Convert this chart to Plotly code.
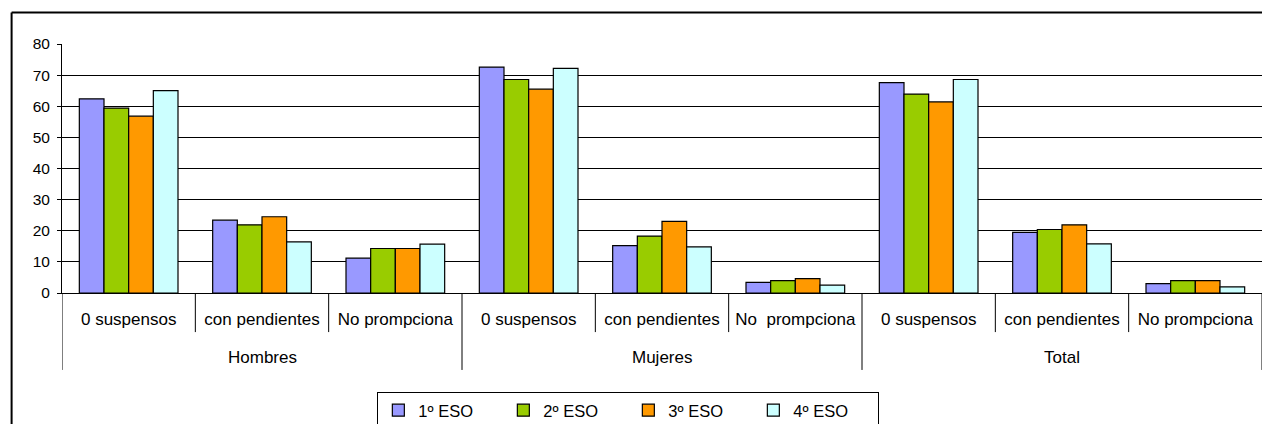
import plotly.graph_objects as go

groups = ["Hombres", "Mujeres", "Total"]
subcat_labels = ["0 suspensos", "con pendientes", "No prompciona",
                 "0 suspensos", "con pendientes", "No  prompciona",
                 "0 suspensos", "con pendientes", "No prompciona"]

series_names = ["1º ESO", "2º ESO", "3º ESO", "4º ESO"]
# values ordered: Hombres(0 susp, con pend, no prom), Mujeres(...), Total(...)
v_1eso = [62.4, 23.4, 11.2, 72.6, 15.2, 3.4, 67.6, 19.5, 3.0]
v_2eso = [59.4, 21.9, 14.3, 68.6, 18.3, 4.0, 63.9, 20.4, 4.0]
v_3eso = [56.8, 24.5, 14.3, 65.5, 23.0, 4.6, 61.4, 21.9, 4.0]
v_4eso = [65.0, 16.4, 15.7, 72.2, 14.8, 2.5, 68.6, 15.8, 2.0]
colors = ["#9999FF", "#99CC00", "#FF9900", "#CCFFFF"]

n_sub = 3
xpos = list(range(len(subcat_labels)))

fig = go.Figure()
for name, vals, col in zip(series_names, [v_1eso, v_2eso, v_3eso, v_4eso], colors):
    fig.add_trace(go.Bar(
        x=xpos, y=vals, name=name,
        marker=dict(color=col, line=dict(color="#000000", width=1.2)),
    ))

FONT = "Liberation Sans, Arial, sans-serif"
fig.update_layout(
    width=1263, height=424,
    margin=dict(l=62, r=1, t=44, b=131, autoexpand=False),
    paper_bgcolor="white", plot_bgcolor="white",
    font=dict(family=FONT, size=15, color="#000000"),
    barmode="group", bargap=0.26, bargroupgap=0,
    showlegend=True,
    legend=dict(
        orientation="h", xref="container", yref="container",
        x=0.4975, xanchor="center", y=0.0755, yanchor="top",
        bordercolor="#000000", borderwidth=1, bgcolor="white",
        font=dict(family=FONT, size=16.5), entrywidth=80, traceorder="normal",
    ),
)
fig.update_yaxes(
    range=[0, 80], dtick=10, showgrid=True, gridcolor="#000000", gridwidth=1,
    showline=True, linecolor="#000000", linewidth=1,
    ticks="outside", ticklen=4, tickcolor="#000000",
    tickfont=dict(family=FONT, size=15.5), zeroline=False,
    ticklabelstandoff=4, automargin=False,
)
fig.update_xaxes(
    range=[-0.5, len(subcat_labels) - 0.5],
    tickmode="array", tickvals=xpos, ticktext=subcat_labels,
    showline=True, linecolor="#000000", linewidth=1,
    ticks="", showgrid=False, zeroline=False,
    tickfont=dict(family=FONT, size=17), ticklabelstandoff=11,
    automargin=False,
)

# separators below the category axis
for i in range(len(subcat_labels) + 1):
    b = i - 0.5
    is_outer = (i % n_sub == 0)
    fig.add_shape(type="line", xref="x", yref="paper",
                  x0=b, x1=b, y0=0, y1=(-0.309 if is_outer else -0.157),
                  line=dict(color="#000000", width=1))

# outer group labels
for gi, g in enumerate(groups):
    fig.add_annotation(x=gi * n_sub + (n_sub - 1) / 2, xref="x", y=-0.26, yref="paper",
                       text=g, showarrow=False, yanchor="middle",
                       font=dict(family=FONT, size=17))

# outer chart-area border (only its top and left edges are visible)
fig.add_shape(type="line", xref="paper", yref="paper",
              x0=-0.042, x1=1.0, y0=1.1265, y1=1.1265,
              line=dict(color="#000000", width=2), layer="below")
fig.add_shape(type="line", xref="paper", yref="paper",
              x0=-0.042, x1=-0.042, y0=-0.8, y1=1.1265,
              line=dict(color="#000000", width=2), layer="below")

fig.write_html(
    "out.html",
    config={"displayModeBar": False},
    post_script="document.body.style.margin='0';document.body.style.overflow='hidden';",
)
